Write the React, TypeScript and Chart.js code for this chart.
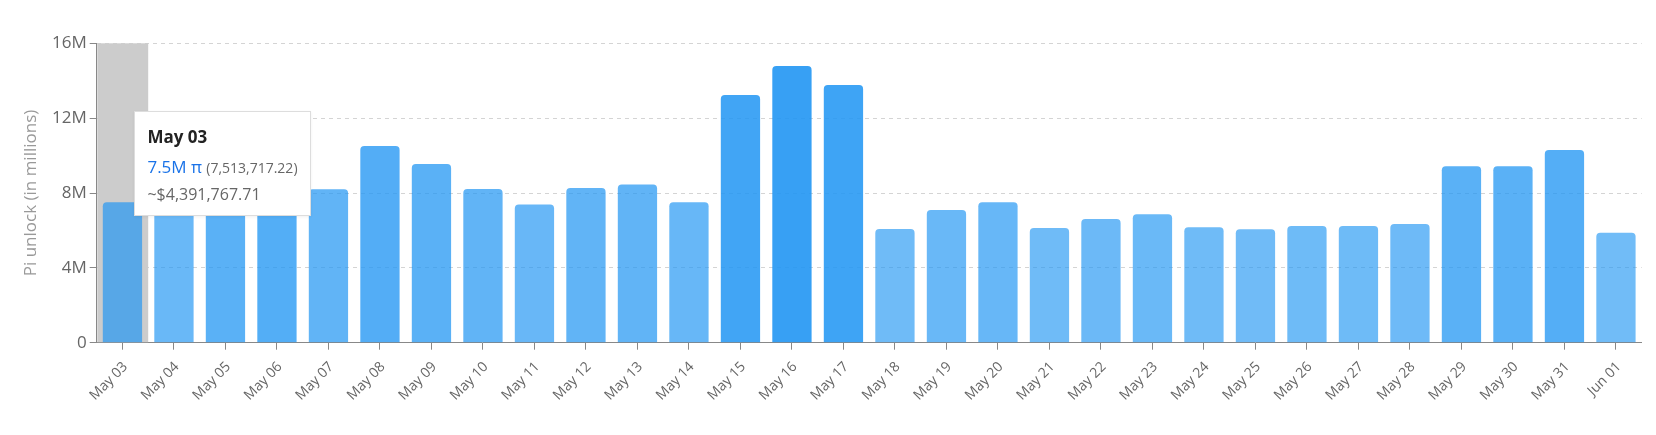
import React, { useEffect, useRef } from 'react';
import { Chart, registerables } from 'chart.js';

Chart.register(...registerables);

// ---- Data ----
const dates = [
  'May 03', 'May 04', 'May 05', 'May 06', 'May 07', 'May 08', 'May 09', 'May 10',
  'May 11', 'May 12', 'May 13', 'May 14', 'May 15', 'May 16', 'May 17', 'May 18',
  'May 19', 'May 20', 'May 21', 'May 22', 'May 23', 'May 24', 'May 25', 'May 26',
  'May 27', 'May 28', 'May 29', 'May 30', 'May 31', 'Jun 01',
];
// Pi unlocked per day, in millions
const unlockMillions = [
  7.51, 7.1, 9.4, 10.4, 8.2, 10.51, 9.55, 8.21,
  7.38, 8.27, 8.45, 7.5, 13.24, 14.79, 13.77, 6.08,
  7.09, 7.5, 6.13, 6.61, 6.87, 6.17, 6.06, 6.24,
  6.24, 6.34, 9.43, 9.43, 10.3, 5.88,
];
const yTickValues = [0, 4, 8, 12, 16];
const yTickLabels = ['0', '4M', '8M', '12M', '16M'];
const yAxisTitle = 'Pi unlock (in millions)';

// Hovered day shown in the tooltip
const activeIndex = 0;
const activeShort = '7.5M π';
const activeExact = '(7,513,717.22)';
const activeUsd = '~$4,391,767.71';

const FONT = '"Open Sans", "Noto Sans", sans-serif';
const W = 1656;
const H = 435;
const TARGET = { left: 96.7, top: 43.3, right: 1641.7, bottom: 342.7 };

const minV = Math.min(...unlockMillions);
const maxV = Math.max(...unlockMillions);
function barColor(v: number) {
  const a = 0.64 + 0.26 * ((v - minV) / (maxV - minV));
  return `rgba(33,150,243,${a.toFixed(3)})`;
}

const cursorPlugin = {
  id: 'hoverCursor',
  beforeDatasetsDraw(chart: any) {
    const x = chart.scales.x;
    const area = chart.chartArea;
    const catW = (x.right - x.left) / dates.length;
    const cx = x.getPixelForValue(activeIndex);
    const ctx = chart.ctx;
    ctx.save();
    ctx.fillStyle = '#cccccc';
    const left = Math.max(cx - catW / 2, area.left + 0.6);
    ctx.fillRect(left, area.top, cx + catW / 2 - left, area.bottom - area.top - 0.5);
    ctx.restore();
  },
};

export default function App() {
  const canvasRef = useRef<HTMLCanvasElement | null>(null);
  const tipRef = useRef<HTMLDivElement | null>(null);

  useEffect(() => {
    if (!canvasRef.current) return;
    const chart = new Chart(canvasRef.current, {
      type: 'bar',
      data: {
        labels: dates,
        datasets: [
          {
            label: 'Pi unlock',
            data: unlockMillions,
            backgroundColor: unlockMillions.map(barColor),
            hoverBackgroundColor: unlockMillions.map(barColor),
            borderWidth: 0,
            borderRadius: { topLeft: 4, topRight: 4, bottomLeft: 0, bottomRight: 0 },
            borderSkipped: 'bottom',
            categoryPercentage: 1,
            barPercentage: 0.763,
          },
        ],
      },
      options: {
        responsive: true,
        maintainAspectRatio: false,
        animation: false,
        events: [],
        layout: { padding: { top: TARGET.top, right: W - TARGET.right, bottom: 0, left: 0 } },
        plugins: {
          legend: { display: false },
          tooltip: { enabled: false },
        },
        scales: {
          x: {
            grid: {
              display: true,
              drawOnChartArea: false,
              drawTicks: true,
              offset: false,
              tickLength: 7,
              tickColor: '#888',
              tickWidth: 1,
            },
            border: { display: true, color: '#888', width: 1 },
            ticks: {
              autoSkip: false,
              minRotation: 45,
              maxRotation: 45,
              padding: 9,
              labelOffset: 3,
              color: '#666',
              font: { family: FONT, size: 14 },
            },
            afterFit(scale: any) {
              scale.height = H - TARGET.bottom;
            },
          },
          y: {
            min: 0,
            max: 16,
            afterBuildTicks(scale: any) {
              scale.ticks = yTickValues.map((v) => ({ value: v }));
            },
            ticks: {
              color: '#666',
              padding: 3,
              font: { family: FONT, size: 17 },
              callback: (v: any) => {
                const i = yTickValues.indexOf(Number(v));
                return i >= 0 ? yTickLabels[i] : '';
              },
            },
            grid: {
              color: (c: any) => (c.tick && c.tick.value === 0 ? 'rgba(0,0,0,0)' : '#d4d4d4'),
              lineWidth: 1,
              drawTicks: true,
              tickLength: 7,
              tickColor: '#888',
              tickBorderDash: [],
            },
            border: { display: true, color: '#888', width: 1, dash: [4, 4] },
            title: {
              display: true,
              text: yAxisTitle,
              color: '#999',
              font: { family: FONT, size: 17, weight: 'normal' },
              padding: { top: 21, bottom: 0 },
            },
            afterFit(scale: any) {
              scale.width = TARGET.left;
            },
          },
        },
      },
      plugins: [cursorPlugin],
    } as any);

    // correct the plot area so that it lands where the reference has it
    const a = chart.chartArea;
    const p: any = (chart.options.layout as any).padding;
    p.top += TARGET.top - a.top;
    p.right += a.right - TARGET.right;
    chart.update();

    if (tipRef.current) {
      const cx = chart.scales.x.getPixelForValue(activeIndex);
      tipRef.current.style.left = `${cx + 12}px`;
      tipRef.current.style.top = `${chart.chartArea.top + 67.7}px`;
      tipRef.current.style.display = 'block';
    }

    return () => {
      chart.destroy();
    };
  }, []);

  return (
    <div style={{ position: 'absolute', left: 0, top: 0, width: W, height: H, background: '#fff' }}>
      <canvas ref={canvasRef} />
      <div
        ref={tipRef}
        style={{
          position: 'absolute',
          display: 'none',
          background: '#fff',
          border: '1px solid #dddddd',
          boxShadow: '0 1px 3px rgba(0,0,0,0.06)',
          padding: '12px 12px 8px 12px',
          fontFamily: FONT,
          whiteSpace: 'nowrap',
          pointerEvents: 'none',
        }}
      >
        <div style={{ fontSize: 17, fontWeight: 700, color: '#222', lineHeight: '26px', marginBottom: 4 }}>
          {dates[activeIndex]}
        </div>
        <div style={{ lineHeight: '26px' }}>
          <span style={{ fontSize: 17, color: '#1a73e8' }}>{activeShort}</span>{' '}
          <span style={{ fontSize: 14, color: '#666' }}>{activeExact}</span>
        </div>
        <div style={{ fontSize: 16, color: '#666', lineHeight: '26px' }}>{activeUsd}</div>
      </div>
    </div>
  );
}
